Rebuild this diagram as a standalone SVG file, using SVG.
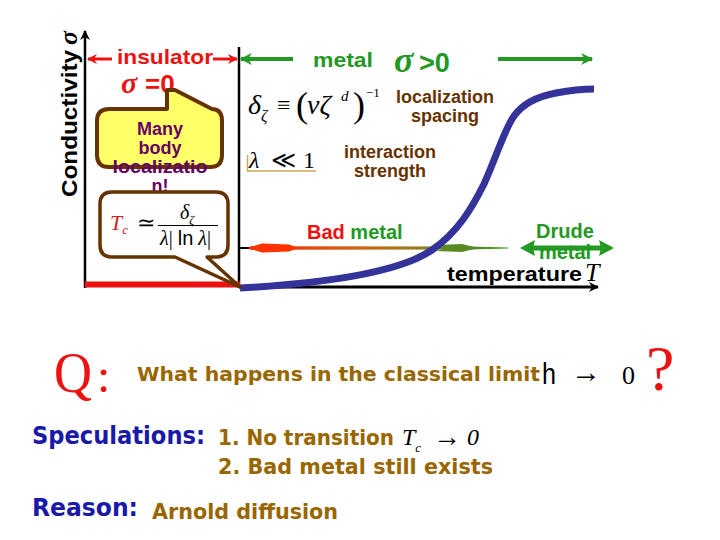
<svg xmlns="http://www.w3.org/2000/svg" width="720" height="540" viewBox="0 0 720 540">
<style>
.lab{font-family:"Liberation Sans",Arial,sans-serif;font-weight:bold}
.ser{font-family:"Liberation Serif","Times New Roman",serif}
.it{font-style:italic}
.comic{font-family:"DejaVu Sans",sans-serif}
.brown{fill:#663300}
.green{fill:#229922}
.red{fill:#ee1111}
.bot{fill:#996600;font-weight:bold}
.blue{fill:#1a1aa8}
</style>
<defs>
<marker id="ahRed" viewBox="0 0 10 10" refX="9" refY="5" markerWidth="12" markerHeight="10" orient="auto-start-reverse" markerUnits="userSpaceOnUse"><path d="M0,0 L10,5 L0,10 L3,5 Z" fill="#ee1111"/></marker>
<marker id="ahGreen" viewBox="0 0 10 10" refX="9" refY="5" markerWidth="13" markerHeight="12" orient="auto-start-reverse" markerUnits="userSpaceOnUse"><path d="M0,0 L10,5 L0,10 L3,5 Z" fill="#229922"/></marker>
<marker id="ahBlack" viewBox="0 0 10 10" refX="9" refY="5" markerWidth="12" markerHeight="10" orient="auto-start-reverse" markerUnits="userSpaceOnUse"><path d="M0,0 L10,5 L0,10 L3,5 Z" fill="#000"/></marker>
<linearGradient id="gBad" x1="250" y1="0" x2="508" y2="0" gradientUnits="userSpaceOnUse">
<stop offset="0" stop-color="#ff2a00"/><stop offset="0.45" stop-color="#cc6611"/><stop offset="0.75" stop-color="#778822"/><stop offset="1" stop-color="#339922"/>
</linearGradient>
</defs>

<g id="connectors">
<line x1="85" y1="288" x2="85" y2="31" stroke="#000" stroke-width="2.5" marker-end="url(#ahBlack)"/>
<line x1="239" y1="47" x2="239" y2="288" stroke="#000" stroke-width="2.5"/>
<line x1="239" y1="287" x2="598" y2="287" stroke="#000" stroke-width="3" marker-end="url(#ahBlack)"/>
<rect x="85" y="281.5" width="155" height="6" fill="#ee1111"/>
<line x1="112" y1="59" x2="88" y2="59" stroke="#ee1111" stroke-width="3" marker-end="url(#ahRed)"/>
<line x1="213" y1="59" x2="237" y2="59" stroke="#ee1111" stroke-width="3" marker-end="url(#ahRed)"/>
<line x1="293" y1="59" x2="241" y2="59" stroke="#229922" stroke-width="4" marker-end="url(#ahGreen)"/>
<line x1="498" y1="59" x2="592" y2="59" stroke="#229922" stroke-width="4" marker-end="url(#ahGreen)"/>
<line x1="239" y1="248" x2="252" y2="248" stroke="#000" stroke-width="2"/>
<path d="M250,246.3 L470,246.6 L508,247.6 L508,248.4 L470,249.4 L250,249.7 Z" fill="url(#gBad)"/>
<path d="M247,248 L262,243.5 L289,244.5 L298,248 L289,251.5 L262,252.5 Z" fill="#ff3300"/>
<path d="M436,245 L462,244 L478,248 L462,252 L436,251 L446,248 Z" fill="#5a8a22"/>
<path d="M240,288 C330,283 400,272 432,250 C458,232 472,208 484,184 C496,158 504,130 514,116 C524,102 540,96 556,93 C572,90 584,89 594,89" fill="none" stroke="#333399" stroke-width="7"/>
</g>

<g id="y-label">
<g transform="translate(77,197) rotate(-90)">
<text x="0" y="0" class="lab" font-size="22" textLength="147" lengthAdjust="spacingAndGlyphs">Conductivity</text>
<text x="152" y="0" class="ser it" font-size="26" font-weight="bold">σ</text>
</g>
</g>

<g id="insulator">
<text x="117" y="64" class="lab red" font-size="21" textLength="96" lengthAdjust="spacingAndGlyphs">insulator</text>
<text x="121" y="93" class="ser it red" font-size="30" font-weight="bold">σ</text>
<text x="145" y="93" class="lab red" font-size="26">=0</text>
</g>

<g id="metal-label">
<text x="313" y="67" class="lab green" font-size="21" textLength="60" lengthAdjust="spacingAndGlyphs">metal</text>
<text x="394" y="72" class="ser it green" font-size="36" font-weight="bold">σ</text>
<text x="419" y="72" class="lab green" font-size="27">&gt;0</text>
</g>

<g id="bubble-mbl">
<path d="M109,109 H167 V90 H175 L212,109 Q222,109 222,121 V155 Q222,167 210,167 H109 Q97,167 97,155 V121 Q97,109 109,109 Z" fill="#ffff66" stroke="#663300" stroke-width="4" stroke-linejoin="round"/>
<g class="lab" fill="#660066" font-size="18" text-anchor="middle">
<text x="160" y="135">Many</text>
<text x="160" y="154">body</text>
<text x="160" y="173" textLength="95" lengthAdjust="spacingAndGlyphs">localizatio</text>
<text x="160" y="192">n!</text>
</g>
</g>

<g id="bubble-tc">
<path d="M112,192 H216 Q228,192 228,204 V245 Q228,257 216,257 H207 L240,287 L175,257 H112 Q100,257 100,245 V204 Q100,192 112,192 Z" fill="#ffffff" stroke="#663300" stroke-width="3.5" stroke-linejoin="round"/>
<text x="110" y="230" class="ser it" fill="#cc2222" font-size="22">T<tspan font-size="13" dy="4">c</tspan></text>
<text x="137" y="230" class="ser" font-size="22">≃</text>
<text x="180" y="219" class="ser it" font-size="20">δ<tspan font-size="12" dy="5">ζ</tspan></text>
<line x1="158" y1="225.5" x2="218" y2="225.5" stroke="#000" stroke-width="1"/>
<text x="160" y="245" class="ser" font-size="20"><tspan font-style="italic">λ</tspan>| <tspan font-family="Liberation Sans,sans-serif">ln</tspan> <tspan font-style="italic">λ</tspan>|</text>
</g>

<g id="formula-delta">
<text x="248" y="114" class="ser it" font-size="28">δ<tspan font-size="16" dy="7">ζ</tspan></text>
<text x="277" y="113" class="ser" font-size="24">≡</text>
<text x="296" y="117" class="ser" font-size="36">(</text>
<text x="307" y="114" class="ser it" font-size="28">νζ</text>
<text x="341" y="101" class="ser it" font-size="15">d</text>
<text x="353" y="117" class="ser" font-size="36">)</text>
<text x="366" y="97" class="ser" font-size="13">−1</text>
<text x="445" y="103" class="lab brown" font-size="18" text-anchor="middle">localization</text>
<text x="445" y="122" class="lab brown" font-size="18" text-anchor="middle">spacing</text>
</g>

<g id="formula-lambda">
<path d="M247.5,155 V171 H316" fill="none" stroke="#ccaa55" stroke-width="1.5"/>
<text x="249" y="168" class="ser it" font-size="24">λ</text>
<text x="271" y="168" class="ser" font-size="24">≪</text>
<text x="303" y="168" class="ser" font-size="24">1</text>
<text x="390" y="158" class="lab brown" font-size="18" text-anchor="middle">interaction</text>
<text x="390" y="177" class="lab brown" font-size="18" text-anchor="middle">strength</text>
</g>

<g id="bad-metal">
<text x="307" y="239" class="lab" font-size="20"><tspan fill="#ee1111">Bad</tspan> <tspan fill="#229922">metal</tspan></text>
</g>

<g id="drude-metal">
<text x="565" y="238" class="lab green" font-size="20" text-anchor="middle">Drude</text>
<text x="565" y="259" class="lab green" font-size="20" text-anchor="middle">metal</text>
<line x1="532" y1="248" x2="601" y2="248" stroke="#229922" stroke-width="5"/>
<path d="M520,248 L535,240 L533,248 L535,256 Z" fill="#229922"/>
<path d="M614,248 L599,240 L601,248 L599,256 Z" fill="#229922"/>
</g>

<g id="temperature">
<text x="447" y="281" class="lab" font-size="20" textLength="135" lengthAdjust="spacingAndGlyphs">temperature</text>
<text x="585" y="281" class="ser it" font-size="26">T</text>
</g>

<g id="question">
<text x="54" y="392" class="ser red" font-size="58" textLength="38" lengthAdjust="spacingAndGlyphs">Q</text>
<text x="97" y="392" class="ser red" font-size="48">:</text>
<text x="137" y="381" class="comic bot" font-size="19" textLength="403" lengthAdjust="spacingAndGlyphs">What happens in the classical limit</text>
<text x="542" y="384" font-family="Liberation Sans,sans-serif" font-size="30" textLength="14" lengthAdjust="spacingAndGlyphs">h</text>
<text x="571" y="382" class="ser" font-size="30">→</text>
<text x="622" y="384" class="ser" font-size="26" font-weight="300">0</text>
<text x="646" y="390" class="ser red" font-size="64">?</text>
</g>

<g id="speculations">
<text x="32" y="444" class="comic blue" font-weight="bold" font-size="24" textLength="173" lengthAdjust="spacingAndGlyphs">Speculations:</text>
<text x="218" y="445" class="comic bot" font-size="21" textLength="176" lengthAdjust="spacingAndGlyphs">1. No transition</text>
<text x="402" y="445" class="ser it" font-size="24">T<tspan font-size="13" dy="7">c</tspan></text>
<text x="433" y="446" class="ser" font-size="28">→</text>
<text x="467" y="445" class="ser it" font-size="24">0</text>
<text x="218" y="474" class="comic bot" font-size="21" textLength="275" lengthAdjust="spacingAndGlyphs">2. Bad metal still exists</text>
</g>

<g id="reason">
<text x="32" y="516" class="comic blue" font-weight="bold" font-size="24" textLength="106" lengthAdjust="spacingAndGlyphs">Reason:</text>
<text x="152" y="519" class="comic bot" font-size="21" textLength="186" lengthAdjust="spacingAndGlyphs">Arnold diffusion</text>
</g>
</svg>
